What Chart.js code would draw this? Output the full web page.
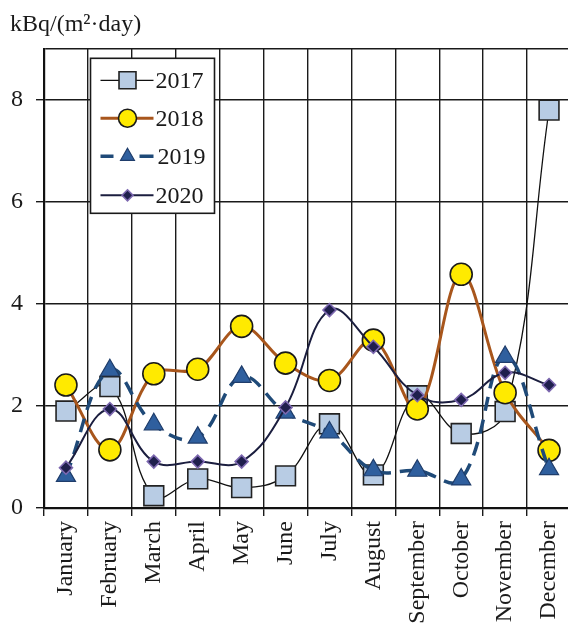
<!DOCTYPE html>
<html>
<head>
<meta charset="utf-8">
<script src="https://cdn.jsdelivr.net/npm/chart.js@4.4.1/dist/chart.umd.min.js"></script>
<style>
  html, body { margin: 0; padding: 0; background: #fff; overflow: hidden; }
  #c { position: absolute; left: 0; top: 0; }
</style>
</head>
<body>
<canvas id="c" width="574" height="624"></canvas>
<script>
// Monthly deposition, kBq/(m²·day)
const months = ['January', 'February', 'March', 'April', 'May', 'June', 'July',
  'August', 'September', 'October', 'November', 'December'];
const yearLabels = ['2017', '2018', '2019', '2020'];
const values2017 = [1.90, 2.38, 0.24, 0.57, 0.40, 0.63, 1.65, 0.65, 2.20, 1.46, 1.89, 7.80];
const values2018 = [2.41, 1.14, 2.63, 2.72, 3.56, 2.84, 2.50, 3.29, 1.94, 4.58, 2.26, 1.13];
const values2019 = [0.63, 2.70, 1.64, 1.38, 2.57, 1.87, 1.48, 0.74, 0.73, 0.56, 2.96, 0.76];
const values2020 = [0.79, 1.94, 0.91, 0.91, 0.91, 1.97, 3.88, 3.16, 2.21, 2.12, 2.65, 2.41];
const yTicks = [0, 2, 4, 6, 8];
const yMax = 9;

const SERIF = "'Liberation Serif', 'Times New Roman', serif";
const INK = '#1a1a1a';

const styles = [
  { line: '#111111', width: 1.3, dash: [], point: 'rect', radius: 14, fill: '#b8cce4', edge: '#222222', edgeW: 1.6, tension: 0.4 },
  { line: '#a8561c', width: 3, dash: [], point: 'circle', radius: 11, fill: '#ffea00', edge: '#1a1a1a', edgeW: 1.6, tension: 0.35 },
  { line: '#1f4a78', width: 3.5, dash: [14, 9], point: 'triangle', radius: 11, fill: '#2f5f9e', edge: '#1f3d6b', edgeW: 1.2, tension: 0.4 },
  { line: '#1b1e3f', width: 2, dash: [], point: 'rectRot', radius: 6.5, fill: '#1f1f4d', edge: '#7d68b0', edgeW: 1.6, tension: 0.4 }
];
const seriesValues = [values2017, values2018, values2019, values2020];

const datasets = seriesValues.map((vals, i) => ({
  label: yearLabels[i],
  data: vals,
  order: 4 - i,
  borderColor: styles[i].line,
  borderWidth: styles[i].width,
  borderDash: styles[i].dash,
  tension: styles[i].tension,
  fill: false,
  pointStyle: styles[i].point,
  pointRadius: styles[i].radius,
  pointHoverRadius: styles[i].radius,
  pointBackgroundColor: styles[i].fill,
  pointBorderColor: styles[i].edge,
  pointBorderWidth: styles[i].edgeW
}));

// Marker glyphs for the boxed legend
function marker(ctx, style, x, y, r) {
  ctx.save();
  ctx.beginPath();
  if (style.point === 'rect') {
    const s = r * Math.SQRT1_2;
    ctx.rect(x - s, y - s, 2 * s, 2 * s);
  } else if (style.point === 'circle') {
    ctx.arc(x, y, r, 0, Math.PI * 2);
  } else if (style.point === 'triangle') {
    for (let k = 0; k < 3; k++) {
      const a = k * 2 * Math.PI / 3;
      const px = x + Math.sin(a) * r, py = y - Math.cos(a) * r;
      if (k === 0) ctx.moveTo(px, py); else ctx.lineTo(px, py);
    }
    ctx.closePath();
  } else {
    ctx.moveTo(x, y - r); ctx.lineTo(x + r, y); ctx.lineTo(x, y + r); ctx.lineTo(x - r, y);
    ctx.closePath();
  }
  ctx.fillStyle = style.fill;
  ctx.fill();
  ctx.lineWidth = style.edgeW;
  ctx.strokeStyle = style.edge;
  ctx.setLineDash([]);
  ctx.stroke();
  ctx.restore();
}

const boxedLegend = {
  id: 'boxedLegend',
  afterDatasetsDraw(chart) {
    const ctx = chart.ctx;
    const a = chart.chartArea;
    const bx = a.left + 46.5, by = a.top + 9.5, bw = 124, bh = 155;
    ctx.save();
    ctx.fillStyle = '#ffffff';
    ctx.fillRect(bx, by, bw, bh);
    ctx.lineWidth = 1.6;
    ctx.strokeStyle = '#1a1a1a';
    ctx.strokeRect(bx, by, bw, bh);
    const rows = [22, 60, 98, 137];
    const legendR = [12, 9, 8, 5.5];
    yearLabels.forEach((lab, i) => {
      const st = styles[i];
      const y = by + rows[i];
      const x0 = bx + 10, x1 = bx + 63, xm = bx + 37;
      ctx.lineWidth = st.width;
      ctx.strokeStyle = st.line;
      ctx.setLineDash([]);
      ctx.beginPath();
      if (st.dash.length) {
        ctx.moveTo(x0, y); ctx.lineTo(x0 + 13, y);
        ctx.moveTo(x1 - 14, y); ctx.lineTo(x1, y);
      } else {
        ctx.moveTo(x0, y); ctx.lineTo(x1, y);
      }
      ctx.stroke();
      marker(ctx, st, xm, y, legendR[i]);
      ctx.fillStyle = INK;
      ctx.font = '24px ' + SERIF;
      ctx.textBaseline = 'middle';
      ctx.textAlign = 'left';
      ctx.fillText(lab, bx + (i === 2 ? 67 : 65), y + 1);
    });
    ctx.restore();
  }
};

new Chart(document.getElementById('c'), {
  type: 'line',
  data: { labels: months, datasets },
  plugins: [boxedLegend],
  options: {
    responsive: false,
    devicePixelRatio: 1,
    animation: false,
    events: [],
    layout: { autoPadding: false, padding: { left: 10, right: 3, top: 0, bottom: 0 } },
    plugins: {
      legend: { display: false },
      tooltip: { enabled: false },
      title: {
        display: true,
        text: 'kBq/(m²·day)',
        align: 'start',
        color: INK,
        font: { family: SERIF, size: 24, weight: 'normal', lineHeight: 1.2 },
        padding: { top: 10, bottom: 10 }
      }
    },
    scales: {
      x: {
        type: 'category',
        offset: true,
        grid: { offset: true, color: '#1a1a1a', lineWidth: 1.4, tickLength: 8, tickColor: '#1a1a1a' },
        border: { color: '#111', width: 2.2 },
        ticks: {
          color: INK, font: { family: SERIF, size: 24 },
          minRotation: 90, maxRotation: 90, autoSkip: false, padding: 5
        },
        afterFit(scale) {
          scale.height = 116;
          scale.paddingLeft = 0;
          scale.paddingRight = 0;
        }
      },
      y: {
        min: 0,
        max: yMax,
        grid: {
          color: '#1a1a1a', lineWidth: 1.4, tickLength: 8,
          tickColor: (c) => (c.tick && yTicks.includes(c.tick.value)) ? '#1a1a1a' : 'rgba(0,0,0,0)'
        },
        border: { color: '#111', width: 2.2 },
        afterBuildTicks(scale) {
          scale.ticks = yTicks.concat([yMax]).map(v => ({ value: v }));
        },
        ticks: {
          color: INK, font: { family: SERIF, size: 24 }, padding: 13,
          callback: (v) => yTicks.includes(v) ? String(v) : ''
        },
        afterFit(scale) {
          scale.width = 34;
          scale.paddingTop = 0;
          scale.paddingBottom = 0;
        }
      }
    }
  }
});
</script>
</body>
</html>
